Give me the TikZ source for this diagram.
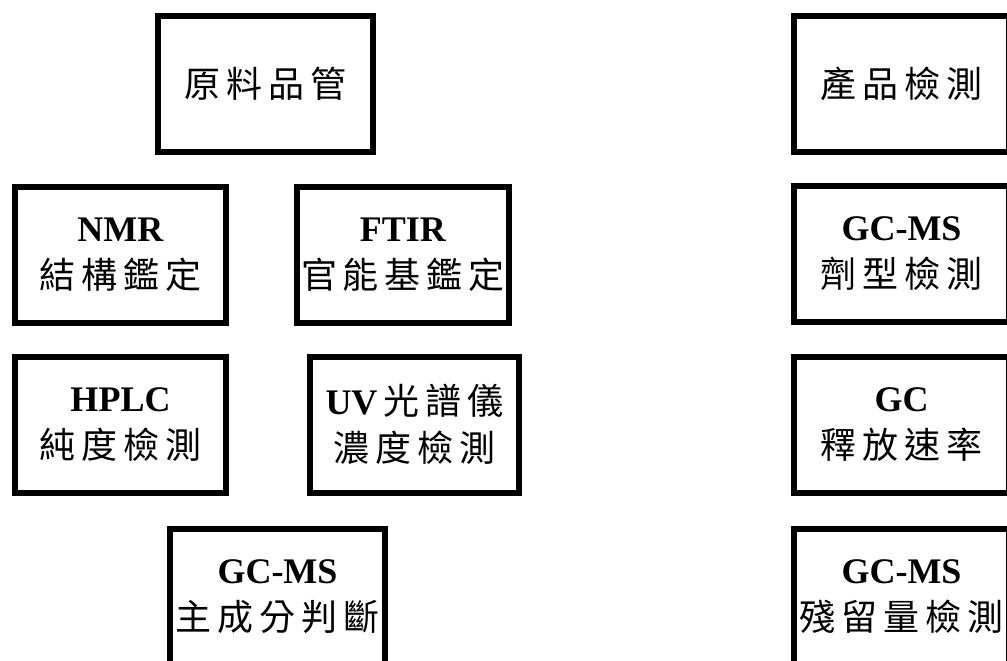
\documentclass[tikz,border=0pt]{standalone}
\usepackage{fontspec}
\setmainfont{Liberation Serif}
\newfontfamily\cjk{Noto Sans CJK TC}
\newlength\cjkgap
\setlength\cjkgap{6pt}
\newcommand\spr[1]{{\cjk\sprA#1\relax}}
\def\sprA#1{\ifx\relax#1\else #1\expandafter\sprB\fi}
\def\sprB#1{\ifx\relax#1\else\hspace{\cjkgap}#1\expandafter\sprB\fi}
\tikzset{
  box/.style={draw=black, line width=6pt, fill=white, inner sep=0pt,
    minimum width=215pt, minimum height=136pt, align=center,
    font=\fontsize{36}{47}\selectfont},
  lat/.style={font=\bfseries}
}
\begin{document}
\begin{tikzpicture}[x=1pt,y=-1pt]
\useasboundingbox (0,0) rectangle (1007,661);
\fill[white] (0,0) rectangle (1007,661);
\clip (0,0) rectangle (1007,661);
% left column
\node[box] (raw) at (265.5,84) {\spr{原料品管}};
\node[box, minimum width=211pt] (nmr) at (120.5,254.5) {\textbf{NMR}\\\spr{結構鑑定}};
\node[box, minimum width=212pt] (ftir) at (403,254.5) {\textbf{FTIR}\\\spr{官能基鑑定}};
\node[box, minimum width=211pt] (hplc) at (120.5,424.5) {\textbf{HPLC}\\\spr{純度檢測}};
\node[box, minimum width=209pt] (uv) at (414.5,424.5) {\textbf{UV}\,\spr{光譜儀}\\\spr{濃度檢測}};
\node[box] (gcms) at (277.5,596.5) {\textbf{GC-MS}\\\spr{主成分判斷}};
% right column
\node[box] (prod) at (901.5,84) {\spr{產品檢測}};
\node[box] (form) at (901.5,254) {\textbf{GC-MS}\\\spr{劑型檢測}};
\node[box] (rel) at (901.5,425) {\textbf{GC}\\\spr{釋放速率}};
\node[box] (res) at (901.5,596.5) {\textbf{GC-MS}\\\spr{殘留量檢測}};
\end{tikzpicture}
\end{document}
